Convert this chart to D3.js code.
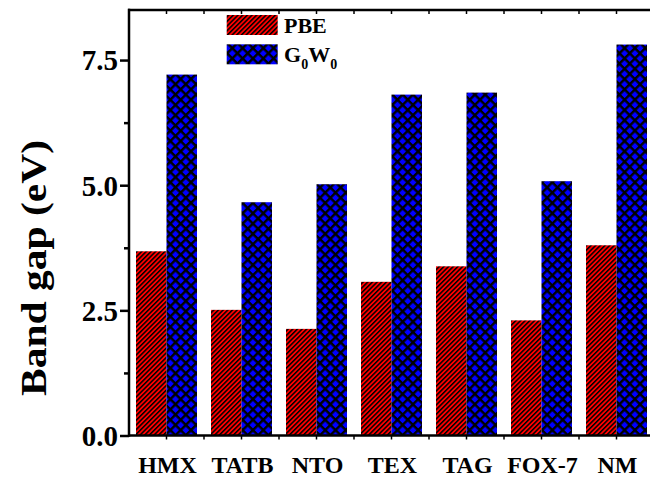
<!DOCTYPE html>
<html><head><meta charset="utf-8">
<script src="https://cdn.jsdelivr.net/npm/d3@7"></script>
<style>body{margin:0;background:#fff}svg{display:block}text{font-family:"Liberation Serif","Times New Roman",serif;font-weight:bold}</style>
</head><body>
<svg id="c" width="650" height="477"></svg>
<script>
const categories = ["HMX","TATB","NTO","TEX","TAG","FOX-7","NM"];
const seriesNames = ["PBE","G0W0"];
const pbe  = [3.68, 2.51, 2.13, 3.07, 3.38, 2.30, 3.80];
const g0w0 = [7.21, 4.66, 5.02, 6.81, 6.85, 5.08, 7.81];
const yTicks = [0, 2.5, 5.0, 7.5];
const yMinorTicks = [1.25, 3.75, 6.25];

const svg = d3.select("#c");
const defs = svg.append("defs");
const p1 = defs.append("pattern").attr("id","pPBE").attr("patternUnits","userSpaceOnUse")
  .attr("width",3.3).attr("height",3.3).attr("patternTransform","rotate(45)");
p1.append("rect").attr("width",3.3).attr("height",3.3).attr("fill","#ff0000");
p1.append("rect").attr("width",1.5).attr("height",3.3).attr("fill","#000");
const p2 = defs.append("pattern").attr("id","pGW").attr("patternUnits","userSpaceOnUse")
  .attr("width",7.3).attr("height",7.3).attr("patternTransform","rotate(45)");
p2.append("rect").attr("width",7.3).attr("height",7.3).attr("fill","#0000ff");
p2.append("rect").attr("width",2.4).attr("height",7.3).attr("fill","#000");
p2.append("rect").attr("width",7.3).attr("height",2.4).attr("fill","#000");

const x0 = d3.scaleBand().domain(categories).range([129, 654]).padding(0);
const x1 = d3.scaleBand().domain(seriesNames).range([7, 68]).padding(0);
const y = d3.scaleLinear().domain([0, 8.5]).range([435.5, 10]);
const fills = {PBE:"url(#pPBE)", G0W0:"url(#pGW)"};
const vals = {PBE:pbe, G0W0:g0w0};

const g = svg.append("g");
categories.forEach((c,i)=>{
  seriesNames.forEach(s=>{
    const v = vals[s][i];
    g.append("rect").attr("x", x0(c)+x1(s)).attr("width", x1.bandwidth())
      .attr("y", y(v)).attr("height", y(0)-y(v)).attr("fill", fills[s]);
  });
});

const yAxis = d3.axisLeft(y).tickValues(yTicks).tickFormat(d3.format(".1f")).tickSize(9).tickPadding(2);
const ya = svg.append("g").attr("transform","translate(129,0)").call(yAxis);
ya.select(".domain").remove();
ya.selectAll("line").attr("stroke","#000").attr("stroke-width",2.5);
ya.selectAll("text").attr("font-size",29).attr("fill","#000").attr("dy","0.34em");
const ym = svg.append("g").attr("transform","translate(129,0)").call(d3.axisLeft(y).tickValues(yMinorTicks).tickSize(5).tickFormat(""));
ym.select(".domain").remove();
ym.selectAll("line").attr("stroke","#000").attr("stroke-width",2.5);

const xb = svg.append("g").attr("transform",`translate(0,${y(0)})`)
  .call(d3.axisBottom(x0).tickSize(4));
xb.select(".domain").remove();
xb.selectAll("line").attr("stroke","#000").attr("stroke-width",1.5);
xb.selectAll("text").attr("font-size",24).attr("fill","#000").attr("dy","0").attr("y",37).attr("dx",1);
const bounds = categories.map(c=>x0(c));
xb.selectAll(".minor").data(bounds.slice(1)).enter().append("line")
  .attr("x1",d=>d).attr("x2",d=>d).attr("y1",0).attr("y2",4).attr("stroke","#000").attr("stroke-width",1.5);
const xt = svg.append("g").attr("transform",`translate(0,${y(8.5)})`)
  .call(d3.axisBottom(x0).tickSize(4).tickFormat(""));
xt.select(".domain").remove();
xt.selectAll("line").attr("stroke","#000").attr("stroke-width",1.5);
xt.selectAll(".minor").data(bounds.slice(1)).enter().append("line")
  .attr("x1",d=>d).attr("x2",d=>d).attr("y1",0).attr("y2",4).attr("stroke","#000").attr("stroke-width",1.5);

svg.append("line").attr("x1",129).attr("x2",129).attr("y1",y(8.5)-1.2).attr("y2",y(0)+1.2).attr("stroke","#000").attr("stroke-width",2.5);
svg.append("line").attr("x1",128).attr("x2",650).attr("y1",y(8.5)).attr("y2",y(8.5)).attr("stroke","#000").attr("stroke-width",2.5);
svg.append("line").attr("x1",128).attr("x2",650).attr("y1",y(0)).attr("y2",y(0)).attr("stroke","#000").attr("stroke-width",2.5);

svg.append("text").attr("transform","translate(46,268) rotate(-90)").attr("text-anchor","middle")
  .attr("font-size",36).attr("fill","#000").attr("textLength",256).attr("lengthAdjust","spacingAndGlyphs")
  .text("Band gap (eV)");

const leg = svg.append("g");
leg.append("rect").attr("x",226.7).attr("y",15).attr("width",51).attr("height",20).attr("fill",fills.PBE);
leg.append("rect").attr("x",226.7).attr("y",44.3).attr("width",51).attr("height",20).attr("fill",fills.G0W0);
leg.append("text").attr("x",284).attr("y",33).attr("font-size",22).attr("fill","#000").text("PBE");
const t2 = leg.append("text").attr("x",284).attr("y",62).attr("font-size",22).attr("fill","#000");
t2.append("tspan").text("G");
t2.append("tspan").attr("font-size",14).attr("dy",7).text("0");
t2.append("tspan").attr("dy",-7).text("W");
t2.append("tspan").attr("font-size",14).attr("dy",7).text("0");
</script>
</body></html>
